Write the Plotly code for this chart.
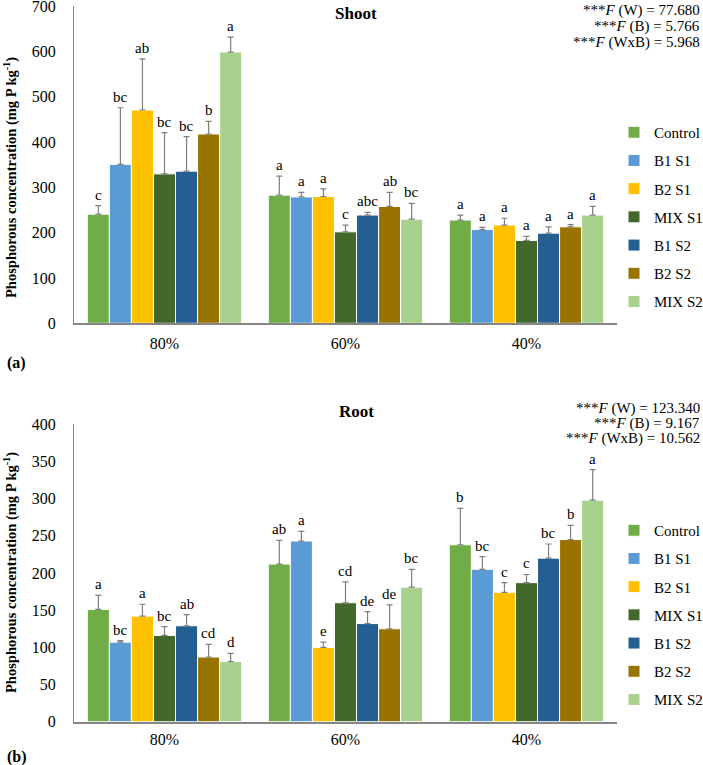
import plotly.graph_objects as go

categories = ["80%", "60%", "40%"]
series = ["Control", "B1 S1", "B2 S1", "MIX S1", "B1 S2", "B2 S2", "MIX S2"]
colors = ["#70AD47", "#5B9BD5", "#FFC000", "#43682B", "#255E91", "#997300", "#A9D18E"]

# Shoot (mean, upper error = top - mean)
shoot_vals = {
    "Control": [241, 283, 228],
    "B1 S1": [351, 279, 207],
    "B2 S1": [471, 280, 217],
    "MIX S1": [330, 202, 183],
    "B1 S2": [336, 239, 199],
    "B2 S2": [418, 258, 213],
    "MIX S2": [599, 230, 239],
}
shoot_err = {
    "Control": [19, 42, 11],
    "B1 S1": [125, 10, 5],
    "B2 S1": [113, 17, 15],
    "MIX S1": [91, 15, 9],
    "B1 S2": [76, 6, 14],
    "B2 S2": [28, 31, 5],
    "MIX S2": [33, 35, 19],
}
shoot_letters = {
    "Control": ["c", "a", "a"],
    "B1 S1": ["bc", "a", "a"],
    "B2 S1": ["ab", "a", "a"],
    "MIX S1": ["bc", "c", "a"],
    "B1 S2": ["bc", "abc", "a"],
    "B2 S2": ["b", "ab", "a"],
    "MIX S2": ["a", "bc", "a"],
}

root_vals = {
    "Control": [151, 212, 238],
    "B1 S1": [107, 243, 205],
    "B2 S1": [142, 100, 174],
    "MIX S1": [116, 160, 187],
    "B1 S2": [129, 132, 220],
    "B2 S2": [87, 125, 245],
    "MIX S2": [81, 181, 298],
}
root_err = {
    "Control": [19, 32, 49],
    "B1 S1": [2, 13, 17],
    "B2 S1": [16, 7, 13],
    "MIX S1": [12, 28, 11],
    "B1 S2": [15, 16, 19],
    "B2 S2": [17, 32, 19],
    "MIX S2": [11, 24, 41],
}
root_letters = {
    "Control": ["a", "ab", "b"],
    "B1 S1": ["bc", "a", "bc"],
    "B2 S1": ["a", "e", "c"],
    "MIX S1": ["bc", "cd", "c"],
    "B1 S2": ["ab", "de", "bc"],
    "B2 S2": ["cd", "de", "b"],
    "MIX S2": ["d", "bc", "a"],
}

shoot_stats = ["***<i>F</i> (W) = 77.680", "***<i>F</i> (B) = 5.766", "***<i>F</i> (WxB) = 5.968"]
root_stats = ["***<i>F</i> (W) = 123.340", "***<i>F</i> (B) = 9.167", "***<i>F</i> (WxB) = 10.562"]

FONT = "Liberation Serif, Times New Roman, serif"
BARGAP = 0.147
n = len(series)
W, H = 703, 765

fig = go.Figure()
annotations = []

def add_panel(vals, errs, letters, xa, ya, legend, tag):
    for j, s in enumerate(series):
        fig.add_trace(go.Bar(
            x=categories, y=vals[s], name=s,
            marker=dict(color=colors[j], line=dict(color="white", width=1)),
            error_y=dict(type="data", array=errs[s], arrayminus=[0] * 3,
                         symmetric=False, color="#7F7F7F", thickness=1.2, width=3),
            xaxis=xa, yaxis=ya, legend=legend, showlegend=True,
            legendgroup=f"{tag}-{s}",
        ))
        slot = (1 - BARGAP) / n
        for i in range(len(categories)):
            xc = i - (1 - BARGAP) / 2 + (j + 0.5) * slot
            annotations.append(dict(
                x=xc, y=vals[s][i] + errs[s][i], xref=xa, yref=ya,
                text=letters[s][i], showarrow=False, yanchor="bottom", yshift=1,
                font=dict(family=FONT, size=15, color="black")))

add_panel(shoot_vals, shoot_err, shoot_letters, "x", "y", "legend", "shoot")
add_panel(root_vals, root_err, root_letters, "x2", "y2", "legend2", "root")

def py(pix):
    return 1 - pix / H

for k, t in enumerate(shoot_stats):
    annotations.append(dict(x=702 / W, y=py(11 + 15.5 * k), xref="paper", yref="paper",
                            xanchor="right", yanchor="middle", text=t, showarrow=False,
                            font=dict(family=FONT, size=15, color="black")))
for k, t in enumerate(root_stats):
    annotations.append(dict(x=702 / W, y=py(408 + 15.5 * k), xref="paper", yref="paper",
                            xanchor="right", yanchor="middle", text=t, showarrow=False,
                            font=dict(family=FONT, size=15, color="black")))

ytitle = "<b>Phosphorous concentration (mg P kg<sup>-1</sup>)</b>"
annotations += [
    dict(x=356 / W, y=py(13), xref="paper", yref="paper", text="<b>Shoot</b>",
         xanchor="center", yanchor="middle",
         showarrow=False, font=dict(family=FONT, size=17, color="black")),
    dict(x=356 / W, y=py(411), xref="paper", yref="paper", text="<b>Root</b>",
         xanchor="center", yanchor="middle",
         showarrow=False, font=dict(family=FONT, size=17, color="black")),
    dict(x=5 / W, y=py(363), xref="paper", yref="paper", text="<b>(a)</b>",
         xanchor="left", yanchor="middle", showarrow=False,
         font=dict(family=FONT, size=16, color="black")),
    dict(x=5 / W, y=py(757), xref="paper", yref="paper", text="<b>(b)</b>",
         xanchor="left", yanchor="middle", showarrow=False,
         font=dict(family=FONT, size=16, color="black")),
    dict(x=10 / W, y=py(178), xref="paper", yref="paper", text=ytitle, textangle=-90,
         xanchor="center", yanchor="middle",
         showarrow=False, font=dict(family=FONT, size=14.5, color="black")),
    dict(x=10 / W, y=py(573), xref="paper", yref="paper", text=ytitle, textangle=-90,
         xanchor="center", yanchor="middle",
         showarrow=False, font=dict(family=FONT, size=14.5, color="black")),
]

xdom = [74 / W, 617 / W]
axis_common = dict(showgrid=False, zeroline=False, showline=True, linecolor="#868686",
                   automargin=False, ticklabeloverflow="allow",
                   tickfont=dict(family=FONT, size=16, color="black"))

legend_common = dict(xref="container", yref="container", xanchor="left", yanchor="top",
                     font=dict(family=FONT, size=15, color="black"),
                     bgcolor="rgba(0,0,0,0)", itemwidth=30, tracegroupgap=5.7)

fig.update_layout(
    width=W, height=H,
    margin=dict(l=0, r=0, t=0, b=0, autoexpand=False),
    paper_bgcolor="white", plot_bgcolor="white",
    barmode="group", bargap=BARGAP, bargroupgap=0.0,
    annotations=annotations,
    xaxis=dict(domain=xdom, anchor="y", ticks="", ticklabelstandoff=5, linewidth=1.5,
               **axis_common),
    yaxis=dict(domain=[py(323.3), py(6.3)], anchor="x", range=[0, 700],
               dtick=100, ticks="", ticklabelstandoff=14, linewidth=1, **axis_common),
    xaxis2=dict(domain=xdom, anchor="y2", ticks="", ticklabelstandoff=2, linewidth=1.5,
                **axis_common),
    yaxis2=dict(domain=[py(721.7), py(424.3)], anchor="x2", range=[0, 400],
                dtick=50, ticks="", ticklabelstandoff=14, linewidth=1, **axis_common),
    legend=dict(x=614 / W, y=py(116), **legend_common),
    legend2=dict(x=614 / W, y=py(514), **legend_common),
)

fig.write_html("out.html", config={"displayModeBar": False},
               post_script="document.body.style.margin='0';")
